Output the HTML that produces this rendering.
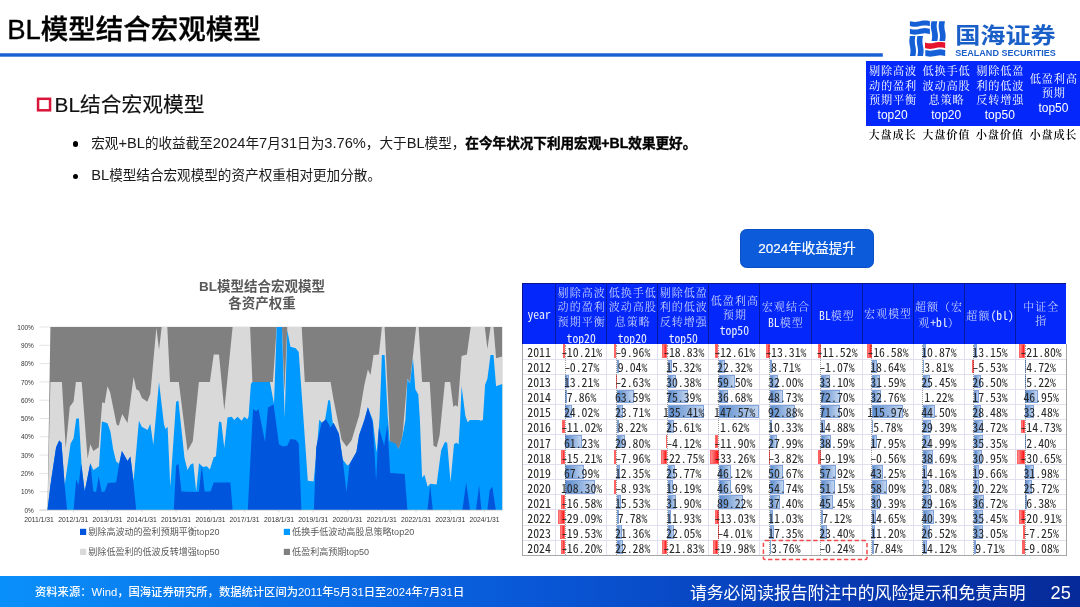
<!DOCTYPE html>
<html lang="zh-CN"><head><meta charset="utf-8"><title>BL模型结合宏观模型</title>
<style>
html,body{margin:0;padding:0;background:#fff}
body{width:1080px;height:607px;position:relative;overflow:hidden;font-family:"Liberation Sans","Noto Sans CJK SC",sans-serif;color:#000}
.abs{position:absolute;white-space:nowrap;line-height:1}
#title{left:7.2px;top:16.1px;font-size:27.5px;font-weight:500;letter-spacing:0;color:#000;-webkit-text-stroke:0.35px #000}
#h2{left:54.6px;top:95.3px;font-size:20.75px;color:#111;-webkit-text-stroke:0.15px #111}
.bul{left:91.2px;font-size:13.6px;color:#1a1a1a;height:16px;line-height:16px}
.bul .la{font-size:14.67px}
.bul b .la{font-size:14.1px}
.bul b{-webkit-text-stroke:0.35px #000;color:#000}
.dot{width:5.6px;height:5.6px;border-radius:50%;background:#000;left:72.8px}
#btn{left:740.3px;top:229.2px;width:133.4px;height:39.1px;border-radius:6.5px;background:#0b5bdb;box-sizing:border-box;border:1px solid #0a4fc4;color:#fff;font-size:13.5px;text-align:center;line-height:37.5px;-webkit-text-stroke:0.2px #fff}
#tr{left:865.5px;top:61.1px;width:214.5px;height:64.8px;background:#0428fb}
.trc{position:absolute;top:0;height:64.8px;width:53.6px;display:flex;flex-direction:column;justify-content:center;align-items:center;color:#fff;font-size:11.2px;line-height:14.5px;white-space:nowrap}
.trc .k{letter-spacing:0.8px;position:relative;left:0.4px}
.trl{top:128px;font-size:11.2px;letter-spacing:0.8px;color:#000;font-weight:600;font-family:"Liberation Serif","Noto Serif CJK SC",serif;text-align:center;width:53.6px;line-height:15px}
.k{font-family:"Liberation Serif","Noto Serif CJK SC",serif}
.m{font-family:"Noto Sans Mono CJK SC","IPAGothic",monospace}
.ar{font-family:"Liberation Sans",sans-serif}
#foot{left:0;top:576.3px;width:1080px;height:30.7px;background:linear-gradient(90deg,#0a90fa 0%,#0a72e8 25%,#0957d6 50%,#083cb6 75%,#062a98 100%)}
#fl{left:35px;top:586.6px;font-size:11.3px;color:#fff;font-weight:500}
#fr{left:690px;top:585.5px;font-size:16.8px;color:#fff}
#pg{left:1050.6px;top:584.2px;font-size:18.2px;color:#fff}
#tbl{left:0;top:0}
.hl{position:absolute;height:15px;line-height:15px;text-align:center;white-space:nowrap;color:rgba(255,255,255,0.86);font-size:11px}
.hl.k{letter-spacing:1.05px;text-indent:1.05px;font-weight:300}
.hl.m,.hl .m{color:rgba(255,255,255,0.92);font-size:11.7px;letter-spacing:0;text-indent:0;font-weight:400}
.c{position:absolute;height:15.08px;line-height:16.5px;text-align:center;font-family:"Noto Sans Mono CJK SC","IPAGothic",monospace;font-size:11.8px;color:#262626;white-space:nowrap}
.d{display:inline-block;transform:translateX(1.2px) scaleX(1.25);transform-origin:100% 50%}

</style></head><body>
<div class="abs" id="title">BL模型结合宏观模型</div>
<svg class="abs" style="left:0;top:50px" width="890" height="10" viewBox="0 50 890 10"><rect x="-1" y="53.25" width="883.8" height="3.45" fill="#1660d4"/></svg>
<svg class="abs" style="left:905px;top:16px" width="160" height="46" viewBox="905 16 160 46">
<g fill="#1560d6"><path d="M909.90 21.20 L911.57 21.55 L913.23 21.81 L914.90 21.90 L916.57 21.81 L918.23 21.55 L919.90 21.20 L921.57 20.85 L923.23 20.59 L924.90 20.50 L926.57 20.59 L928.23 20.85 L929.90 21.20 L929.90 26.10 L928.23 25.75 L926.57 25.49 L924.90 25.40 L923.23 25.49 L921.57 25.75 L919.90 26.10 L918.23 26.45 L916.57 26.71 L914.90 26.80 L913.23 26.71 L911.57 26.45 L909.90 26.10Z"/><path d="M909.90 28.80 L911.57 29.15 L913.23 29.41 L914.90 29.50 L916.57 29.41 L918.23 29.15 L919.90 28.80 L921.57 28.45 L923.23 28.19 L924.90 28.10 L926.57 28.19 L928.23 28.45 L929.90 28.80 L929.90 34.00 L928.23 33.65 L926.57 33.39 L924.90 33.30 L923.23 33.39 L921.57 33.65 L919.90 34.00 L918.23 34.35 L916.57 34.61 L914.90 34.70 L913.23 34.61 L911.57 34.35 L909.90 34.00Z"/><path d="M909.90 36.10 L909.60 37.76 L909.38 39.42 L909.30 41.08 L909.38 42.73 L909.60 44.39 L909.90 46.05 L910.20 47.71 L910.42 49.37 L910.50 51.02 L910.42 52.68 L910.20 54.34 L909.90 56.00 L915.40 56.00 L915.70 54.34 L915.92 52.68 L916.00 51.02 L915.92 49.37 L915.70 47.71 L915.40 46.05 L915.10 44.39 L914.88 42.73 L914.80 41.08 L914.88 39.42 L915.10 37.76 L915.40 36.10Z"/><path d="M917.40 36.10 L917.10 37.76 L916.88 39.42 L916.80 41.08 L916.88 42.73 L917.10 44.39 L917.40 46.05 L917.70 47.71 L917.92 49.37 L918.00 51.02 L917.92 52.68 L917.70 54.34 L917.40 56.00 L923.00 56.00 L923.30 54.34 L923.52 52.68 L923.60 51.02 L923.52 49.37 L923.30 47.71 L923.00 46.05 L922.70 44.39 L922.48 42.73 L922.40 41.08 L922.48 39.42 L922.70 37.76 L923.00 36.10Z"/><path d="M931.50 21.20 L931.17 22.86 L930.94 24.52 L930.85 26.18 L930.94 27.83 L931.17 29.49 L931.50 31.15 L931.83 32.81 L932.06 34.47 L932.15 36.12 L932.06 37.78 L931.83 39.44 L931.50 41.10 L937.30 41.10 L937.62 39.44 L937.86 37.78 L937.95 36.12 L937.86 34.47 L937.62 32.81 L937.30 31.15 L936.97 29.49 L936.74 27.83 L936.65 26.18 L936.74 24.52 L936.97 22.86 L937.30 21.20Z"/><path d="M939.30 21.20 L938.97 22.86 L938.74 24.52 L938.65 26.18 L938.74 27.83 L938.97 29.49 L939.30 31.15 L939.62 32.81 L939.86 34.47 L939.95 36.12 L939.86 37.78 L939.62 39.44 L939.30 41.10 L945.00 41.10 L945.33 39.44 L945.56 37.78 L945.65 36.12 L945.56 34.47 L945.33 32.81 L945.00 31.15 L944.67 29.49 L944.44 27.83 L944.35 26.18 L944.44 24.52 L944.67 22.86 L945.00 21.20Z"/><path d="M925.30 50.00 L926.96 50.35 L928.62 50.61 L930.27 50.70 L931.93 50.61 L933.59 50.35 L935.25 50.00 L936.91 49.65 L938.57 49.39 L940.23 49.30 L941.88 49.39 L943.54 49.65 L945.20 50.00 L945.20 56.00 L943.54 55.65 L941.88 55.39 L940.23 55.30 L938.57 55.39 L936.91 55.65 L935.25 56.00 L933.59 56.35 L931.93 56.61 L930.27 56.70 L928.62 56.61 L926.96 56.35 L925.30 56.00Z"/></g><path fill="#e6142d" d="M925.00 42.60 L926.68 42.95 L928.37 43.21 L930.05 43.30 L931.73 43.21 L933.42 42.95 L935.10 42.60 L936.78 42.25 L938.47 41.99 L940.15 41.90 L941.83 41.99 L943.52 42.25 L945.20 42.60 L945.20 48.20 L943.52 47.85 L941.83 47.59 L940.15 47.50 L938.47 47.59 L936.78 47.85 L935.10 48.20 L933.42 48.55 L931.73 48.81 L930.05 48.90 L928.37 48.81 L926.68 48.55 L925.00 48.20Z"/>
<text x="955.2" y="42.9" font-family='"Liberation Sans","Noto Sans CJK SC",sans-serif' font-weight="700" font-size="22" fill="#1a5fc8" textLength="100.6" lengthAdjust="spacingAndGlyphs">国海证券</text>
<text x="955.2" y="56.4" font-family='"Liberation Sans",sans-serif' font-weight="700" font-size="9.8" fill="#1a5fc8" textLength="100.6" lengthAdjust="spacingAndGlyphs">SEALAND SECURITIES</text>
</svg>
<div class="abs" id="tr">
<div class="trc" style="left:0.3px">
<span class="k">剔除高波</span>
<span class="k">动的盈利</span>
<span class="k">预期平衡</span>
<span class="ar" style="font-size:12px">top20</span>
</div>
<div class="trc" style="left:53.9px">
<span class="k">低换手低</span>
<span class="k">波动高股</span>
<span class="k">息策略</span>
<span class="ar" style="font-size:12px">top20</span>
</div>
<div class="trc" style="left:107.5px">
<span class="k">剔除低盈</span>
<span class="k">利的低波</span>
<span class="k">反转增强</span>
<span class="ar" style="font-size:12px">top50</span>
</div>
<div class="trc" style="left:161.1px">
<span class="k">低盈利高</span>
<span class="k">预期</span>
<span class="ar" style="font-size:12px">top50</span>
</div>
</div>
<div class="abs trl" style="left:865.8px">大盘成长</div>
<div class="abs trl" style="left:919.4px">大盘价值</div>
<div class="abs trl" style="left:973.0px">小盘价值</div>
<div class="abs trl" style="left:1026.6px">小盘成长</div>
<svg class="abs" style="left:30px;top:90px" width="30" height="30" viewBox="30 90 30 30"><rect x="38.05" y="98.8" width="12" height="11.5" fill="none" stroke="#d9163a" stroke-width="2.5"/></svg>
<div class="abs" id="h2">BL结合宏观模型</div>
<div class="abs dot" style="top:141.3px"></div>
<div class="abs bul" style="top:135px">宏观<span class="la">+BL</span>的收益截至<span class="la">2024</span>年<span class="la">7</span>月<span class="la">31</span>日为<span class="la">3.76%</span>，大于<span class="la">BL</span>模型，<b>在今年状况下利用宏观<span class="la">+BL</span>效果更好。</b></div>
<div class="abs dot" style="top:173.5px"></div>
<div class="abs bul" style="top:167.2px"><span class="la">BL</span>模型结合宏观模型的资产权重相对更加分散。</div>
<div class="abs" id="btn">2024年收益提升</div>
<svg class="abs" style="left:0;top:270px" width="520" height="300" viewBox="0 270 520 300">
<text x="262" y="291.3" text-anchor="middle" font-family='&quot;Liberation Sans&quot;,&quot;Noto Sans CJK SC&quot;,sans-serif' font-weight="700" font-size="13.5" fill="#595959">BL模型结合宏观模型</text>
<text x="262" y="308" text-anchor="middle" font-family='&quot;Liberation Sans&quot;,&quot;Noto Sans CJK SC&quot;,sans-serif' font-weight="700" font-size="13.5" fill="#595959">各资产权重</text>
<line x1="39.5" x2="502.2" y1="510.0" y2="510.0" stroke="#d9d9d9" stroke-width="0.7"/>
<text x="33.8" y="512.6" text-anchor="end" font-family="Liberation Sans,sans-serif" font-size="6.45" fill="#333">0%</text>
<line x1="39.5" x2="502.2" y1="491.7" y2="491.7" stroke="#d9d9d9" stroke-width="0.7"/>
<text x="33.8" y="494.3" text-anchor="end" font-family="Liberation Sans,sans-serif" font-size="6.45" fill="#333">10%</text>
<line x1="39.5" x2="502.2" y1="473.4" y2="473.4" stroke="#d9d9d9" stroke-width="0.7"/>
<text x="33.8" y="476.0" text-anchor="end" font-family="Liberation Sans,sans-serif" font-size="6.45" fill="#333">20%</text>
<line x1="39.5" x2="502.2" y1="455.1" y2="455.1" stroke="#d9d9d9" stroke-width="0.7"/>
<text x="33.8" y="457.7" text-anchor="end" font-family="Liberation Sans,sans-serif" font-size="6.45" fill="#333">30%</text>
<line x1="39.5" x2="502.2" y1="436.8" y2="436.8" stroke="#d9d9d9" stroke-width="0.7"/>
<text x="33.8" y="439.4" text-anchor="end" font-family="Liberation Sans,sans-serif" font-size="6.45" fill="#333">40%</text>
<line x1="39.5" x2="502.2" y1="418.5" y2="418.5" stroke="#d9d9d9" stroke-width="0.7"/>
<text x="33.8" y="421.1" text-anchor="end" font-family="Liberation Sans,sans-serif" font-size="6.45" fill="#333">50%</text>
<line x1="39.5" x2="502.2" y1="400.2" y2="400.2" stroke="#d9d9d9" stroke-width="0.7"/>
<text x="33.8" y="402.8" text-anchor="end" font-family="Liberation Sans,sans-serif" font-size="6.45" fill="#333">60%</text>
<line x1="39.5" x2="502.2" y1="381.9" y2="381.9" stroke="#d9d9d9" stroke-width="0.7"/>
<text x="33.8" y="384.5" text-anchor="end" font-family="Liberation Sans,sans-serif" font-size="6.45" fill="#333">70%</text>
<line x1="39.5" x2="502.2" y1="363.6" y2="363.6" stroke="#d9d9d9" stroke-width="0.7"/>
<text x="33.8" y="366.2" text-anchor="end" font-family="Liberation Sans,sans-serif" font-size="6.45" fill="#333">80%</text>
<line x1="39.5" x2="502.2" y1="345.3" y2="345.3" stroke="#d9d9d9" stroke-width="0.7"/>
<text x="33.8" y="347.9" text-anchor="end" font-family="Liberation Sans,sans-serif" font-size="6.45" fill="#333">90%</text>
<line x1="39.5" x2="502.2" y1="327.0" y2="327.0" stroke="#d9d9d9" stroke-width="0.7"/>
<text x="33.8" y="329.6" text-anchor="end" font-family="Liberation Sans,sans-serif" font-size="6.45" fill="#333">100%</text>
<polygon fill="#808080" points="47.5,510 50.4,327 502.2,327 502.2,510"/>
<polygon fill="#d9d9d9" points="47.5,509.9 50.4,382.0 61.9,382.0 65.7,448.1 69.8,406.8 73.6,401.4 75.9,382.0 81.7,382.0 87.6,458.7 90.3,444.3 93.4,451.1 98.7,447.3 102.2,402.2 104.7,403.3 107.5,386.3 110.1,392.3 116.6,424.6 118.7,425.8 122.2,413.9 127.5,423.0 133.6,377.1 136.3,389.3 138.9,390.8 141.9,398.1 147.3,401.7 150.3,393.9 156.4,327.8 159.0,349.8 161.7,327.0 167.3,327.0 170.0,382.0 178.8,382.0 187.5,451.1 192.8,441.3 198.9,382.0 209.9,382.0 213.7,354.4 219.0,354.4 224.3,410.6 232.6,327.0 250.1,327.0 252.4,382.0 272.9,382.0 276.7,327.0 282.0,327.0 284.4,392.3 287.3,327.0 301.7,327.0 304.8,382.0 330.6,382.0 333.6,399.9 341.7,440.0 346.7,446.7 351.7,440.0 358.3,418.3 359.1,416.0 364.4,384.7 367.9,369.6 370.5,374.9 373.5,355.1 378.9,354.4 381.9,327.0 384.6,327.0 390.2,442.8 395.6,444.3 398.6,449.6 402.4,436.7 407.4,378.7 410.0,382.5 416.1,327.0 418.6,327.0 422.1,382.0 429.7,382.0 433.5,445.8 436.6,447.3 439.6,435.2 444.9,382.0 450.2,382.0 453.3,406.8 455.5,405.2 457.8,406.8 461.6,355.9 466.9,354.4 470.7,327.0 484.8,327.0 487.4,349.1 490.5,327.0 493.5,327.0 496.1,358.2 502.2,356.6 502.2,510 47.5,510"/>
<polygon fill="#0099ff" points="47.5,509.9 50.4,485.3 56.1,447.3 59.2,440.5 61.5,442.8 64.7,485.3 70.6,443.5 73.6,438.2 76.2,418.5 78.9,418.5 81.5,464.0 84.7,491.4 90.3,463.3 93.4,470.1 96.1,468.3 99.0,466.3 101.9,421.5 104.7,422.3 107.5,423.3 110.4,431.4 113.2,449.6 116.1,461.3 119.0,463.7 121.9,451.1 124.6,455.7 127.5,461.0 130.4,456.4 133.6,480.7 138.9,420.8 141.8,426.8 147.6,429.9 150.3,423.8 153.3,445.1 159.0,381.9 164.0,424.6 165.5,429.1 167.6,426.8 170.3,486.8 176.1,401.7 178.4,400.7 184.5,458.0 187.5,470.1 190.4,464.8 193.3,463.3 196.2,491.4 199.0,463.3 203.0,467.1 206.8,466.3 209.9,469.4 213.7,457.2 215.9,456.4 219.0,421.5 221.3,422.3 224.3,448.1 227.5,417.5 231.7,416.7 234.2,420.0 237.5,416.7 241.7,420.8 244.2,416.7 247.5,419.2 248.6,416.2 250.9,384.0 252.4,382.0 269.9,382.0 274.0,403.7 276.7,327.0 282.0,327.0 284.7,418.1 287.3,330.1 290.4,346.8 295.7,348.3 298.7,352.1 303.3,416.2 307.8,480.7 313.6,481.5 316.7,450.0 319.2,419.7 322.5,423.3 325.0,420.0 328.3,400.3 330.0,400.3 332.8,423.3 333.6,423.0 338.9,433.7 342.7,459.5 347.3,465.6 349.6,464.0 356.4,451.9 359.1,435.2 364.4,420.0 367.9,407.2 372.8,420.0 376.6,452.6 378.9,427.6 379.6,416.0 381.9,355.1 384.6,355.1 387.7,416.0 389.8,441.3 395.6,443.5 398.6,449.6 402.4,436.7 405.4,420.0 407.4,379.4 410.0,383.2 413.0,358.2 415.3,389.3 418.3,394.6 419.9,420.0 422.1,477.7 424.4,474.7 427.7,486.8 430.2,483.8 436.6,484.5 441.1,450.4 444.9,442.0 447.2,442.8 450.5,482.3 454.0,444.3 456.3,442.8 458.6,444.3 460.1,420.0 461.6,386.3 465.4,416.0 467.7,422.3 470.0,420.0 479.1,420.0 480.6,420.8 482.9,420.0 485.1,384.7 487.4,378.7 490.5,355.1 493.5,355.1 496.1,386.3 502.2,384.0 502.2,510 47.5,510"/>
<polygon fill="#0055dd" points="47.5,509.9 50.4,485.3 56.1,447.3 59.2,440.5 61.5,442.8 64.7,485.3 67.1,509.9 73.6,509.9 76.2,479.2 78.6,485.3 81.2,464.0 84.7,491.4 90.3,463.3 93.4,491.4 96.1,492.1 98.7,476.2 101.7,492.1 104.7,491.4 107.8,483.0 116.1,482.6 119.2,464.0 121.9,451.1 124.6,455.7 127.5,461.0 130.4,456.4 133.3,480.7 136.2,509.9 173.8,509.9 176.1,465.6 178.4,464.0 181.4,491.4 195.9,492.1 198.9,491.7 201.8,465.6 204.6,491.4 210.6,491.4 213.7,482.6 230.4,482.6 232.6,509.9 247.8,509.9 250.1,465.6 253.1,409.0 256.2,411.3 258.5,409.0 265.0,442.0 268.0,407.5 273.6,404.5 279.0,444.3 282.8,446.6 287.3,445.8 290.4,439.0 295.7,439.7 298.7,443.5 301.4,509.9 313.9,509.9 316.2,447.3 321.5,423.0 326.0,419.2 330.6,427.6 333.6,423.0 338.9,433.7 342.7,459.5 346.5,492.1 349.6,464.0 356.4,451.9 359.1,435.2 364.4,420.0 367.9,407.2 372.8,423.0 376.1,480.7 378.9,427.6 381.1,435.2 384.2,445.8 387.2,424.6 390.2,473.1 404.7,473.9 407.4,509.9 427.4,509.9 430.2,485.3 432.8,509.9 462.4,509.9 466.2,482.3 470.0,509.9 476.0,509.9 479.1,485.3 481.4,509.9 487.4,509.9 489.7,489.9 492.4,486.8 495.8,509.9 502.2,509.9 502.2,510 47.5,510"/>
<line x1="39.5" x2="502.2" y1="510.2" y2="510.2" stroke="#d0d0d0" stroke-width="0.8"/>
<text x="39.0" y="522.3" text-anchor="middle" font-family="Liberation Sans,sans-serif" font-size="6.75" fill="#333">2011/1/31</text>
<line x1="73.3" x2="73.3" y1="510" y2="512.3" stroke="#d0d0d0" stroke-width="0.8"/>
<text x="73.3" y="522.3" text-anchor="middle" font-family="Liberation Sans,sans-serif" font-size="6.75" fill="#333">2012/1/31</text>
<line x1="107.5" x2="107.5" y1="510" y2="512.3" stroke="#d0d0d0" stroke-width="0.8"/>
<text x="107.5" y="522.3" text-anchor="middle" font-family="Liberation Sans,sans-serif" font-size="6.75" fill="#333">2013/1/31</text>
<line x1="141.8" x2="141.8" y1="510" y2="512.3" stroke="#d0d0d0" stroke-width="0.8"/>
<text x="141.8" y="522.3" text-anchor="middle" font-family="Liberation Sans,sans-serif" font-size="6.75" fill="#333">2014/1/31</text>
<line x1="176.1" x2="176.1" y1="510" y2="512.3" stroke="#d0d0d0" stroke-width="0.8"/>
<text x="176.1" y="522.3" text-anchor="middle" font-family="Liberation Sans,sans-serif" font-size="6.75" fill="#333">2015/1/31</text>
<line x1="210.4" x2="210.4" y1="510" y2="512.3" stroke="#d0d0d0" stroke-width="0.8"/>
<text x="210.4" y="522.3" text-anchor="middle" font-family="Liberation Sans,sans-serif" font-size="6.75" fill="#333">2016/1/31</text>
<line x1="244.6" x2="244.6" y1="510" y2="512.3" stroke="#d0d0d0" stroke-width="0.8"/>
<text x="244.6" y="522.3" text-anchor="middle" font-family="Liberation Sans,sans-serif" font-size="6.75" fill="#333">2017/1/31</text>
<line x1="278.9" x2="278.9" y1="510" y2="512.3" stroke="#d0d0d0" stroke-width="0.8"/>
<text x="278.9" y="522.3" text-anchor="middle" font-family="Liberation Sans,sans-serif" font-size="6.75" fill="#333">2018/1/31</text>
<line x1="313.2" x2="313.2" y1="510" y2="512.3" stroke="#d0d0d0" stroke-width="0.8"/>
<text x="313.2" y="522.3" text-anchor="middle" font-family="Liberation Sans,sans-serif" font-size="6.75" fill="#333">2019/1/31</text>
<line x1="347.4" x2="347.4" y1="510" y2="512.3" stroke="#d0d0d0" stroke-width="0.8"/>
<text x="347.4" y="522.3" text-anchor="middle" font-family="Liberation Sans,sans-serif" font-size="6.75" fill="#333">2020/1/31</text>
<line x1="381.7" x2="381.7" y1="510" y2="512.3" stroke="#d0d0d0" stroke-width="0.8"/>
<text x="381.7" y="522.3" text-anchor="middle" font-family="Liberation Sans,sans-serif" font-size="6.75" fill="#333">2021/1/31</text>
<line x1="416.0" x2="416.0" y1="510" y2="512.3" stroke="#d0d0d0" stroke-width="0.8"/>
<text x="416.0" y="522.3" text-anchor="middle" font-family="Liberation Sans,sans-serif" font-size="6.75" fill="#333">2022/1/31</text>
<line x1="450.2" x2="450.2" y1="510" y2="512.3" stroke="#d0d0d0" stroke-width="0.8"/>
<text x="450.2" y="522.3" text-anchor="middle" font-family="Liberation Sans,sans-serif" font-size="6.75" fill="#333">2023/1/31</text>
<line x1="484.5" x2="484.5" y1="510" y2="512.3" stroke="#d0d0d0" stroke-width="0.8"/>
<text x="484.5" y="522.3" text-anchor="middle" font-family="Liberation Sans,sans-serif" font-size="6.75" fill="#333">2024/1/31</text>
<rect x="80.0" y="528.8" width="6.2" height="6.2" fill="#0055dd"/>
<text x="88.3" y="535.3" font-family='&quot;Liberation Sans&quot;,&quot;Noto Sans CJK SC&quot;,sans-serif' font-size="9.05" fill="#595959">剔除高波动的盈利预期平衡top20</text>
<rect x="283.8" y="528.8" width="6.2" height="6.2" fill="#0099ff"/>
<text x="292.1" y="535.3" font-family='&quot;Liberation Sans&quot;,&quot;Noto Sans CJK SC&quot;,sans-serif' font-size="9.05" fill="#595959">低换手低波动高股息策略top20</text>
<rect x="80.0" y="548.8" width="6.2" height="6.2" fill="#d9d9d9"/>
<text x="88.3" y="555.3" font-family='&quot;Liberation Sans&quot;,&quot;Noto Sans CJK SC&quot;,sans-serif' font-size="9.05" fill="#595959">剔除低盈利的低波反转增强top50</text>
<rect x="283.8" y="548.8" width="6.2" height="6.2" fill="#808080"/>
<text x="292.1" y="555.3" font-family='&quot;Liberation Sans&quot;,&quot;Noto Sans CJK SC&quot;,sans-serif' font-size="9.05" fill="#595959">低盈利高预期top50</text>
</svg>
<div class="abs" id="tbl">
<div class="abs" style="left:522.0px;top:282.6px;width:544.2px;height:61.4px;background:#0428fb;box-sizing:border-box;border-top:1px solid #06158f;border-left:1px solid #06158f"></div>
<div class="abs" style="left:522.0px;top:344.0px;width:544.7px;height:211.9px;background:#fff;box-sizing:border-box;border:1px solid #a6a6a6;border-top:none"></div>
<div class="hl m" style="left:522.5px;top:305.7px;width:33.2px">year</div>
<div class="abs" style="left:555.2px;top:283.0px;width:1px;height:61.0px;background:#061aa0"></div>
<div class="hl k" style="left:555.7px;top:285.8px;width:51.0px">剔除高波</div>
<div class="hl k" style="left:555.7px;top:300.1px;width:51.0px">动的盈利</div>
<div class="hl k" style="left:555.7px;top:314.9px;width:51.0px">预期平衡</div>
<div class="hl m" style="left:555.7px;top:330.0px;width:51.0px">top20</div>
<div class="abs" style="left:606.2px;top:283.0px;width:1px;height:61.0px;background:#061aa0"></div>
<div class="hl k" style="left:606.8px;top:285.8px;width:51.0px">低换手低</div>
<div class="hl k" style="left:606.8px;top:300.1px;width:51.0px">波动高股</div>
<div class="hl k" style="left:606.8px;top:314.9px;width:51.0px">息策略</div>
<div class="hl m" style="left:606.8px;top:330.0px;width:51.0px">top20</div>
<div class="abs" style="left:657.3px;top:283.0px;width:1px;height:61.0px;background:#061aa0"></div>
<div class="hl k" style="left:657.8px;top:285.8px;width:51.0px">剔除低盈</div>
<div class="hl k" style="left:657.8px;top:300.1px;width:51.0px">利的低波</div>
<div class="hl k" style="left:657.8px;top:314.9px;width:51.0px">反转增强</div>
<div class="hl m" style="left:657.8px;top:330.0px;width:51.0px">top50</div>
<div class="abs" style="left:708.4px;top:283.0px;width:1px;height:61.0px;background:#061aa0"></div>
<div class="hl k" style="left:708.9px;top:293.6px;width:51.0px">低盈利高</div>
<div class="hl k" style="left:708.9px;top:308.4px;width:51.0px">预期</div>
<div class="hl m" style="left:708.9px;top:321.7px;width:51.0px">top50</div>
<div class="abs" style="left:759.4px;top:283.0px;width:1px;height:61.0px;background:#061aa0"></div>
<div class="hl k" style="left:759.9px;top:300.4px;width:51.0px">宏观结合</div>
<div class="hl k" style="left:759.9px;top:314.2px;width:51.0px"><span class="m">BL</span>模型</div>
<div class="abs" style="left:810.5px;top:283.0px;width:1px;height:61.0px;background:#061aa0"></div>
<div class="hl k" style="left:811.0px;top:307.4px;width:51.0px"><span class="m">BL</span>模型</div>
<div class="abs" style="left:861.5px;top:283.0px;width:1px;height:61.0px;background:#061aa0"></div>
<div class="hl k" style="left:862.0px;top:307.4px;width:51.0px">宏观模型</div>
<div class="abs" style="left:912.5px;top:283.0px;width:1px;height:61.0px;background:#061aa0"></div>
<div class="hl k" style="left:913.0px;top:300.4px;width:51.0px">超额（宏</div>
<div class="hl k" style="left:913.0px;top:314.2px;width:51.0px">观<span class="m">+bl</span>）</div>
<div class="abs" style="left:963.6px;top:283.0px;width:1px;height:61.0px;background:#061aa0"></div>
<div class="hl k" style="left:964.1px;top:307.4px;width:51.0px">超额<span class="m">(bl)</span></div>
<div class="abs" style="left:1014.7px;top:283.0px;width:1px;height:61.0px;background:#061aa0"></div>
<div class="hl k" style="left:1015.2px;top:300.4px;width:51.0px">中证全</div>
<div class="hl k" style="left:1015.2px;top:314.2px;width:51.0px">指</div>
<div class="abs" style="left:522.5px;top:358.6px;width:543.7px;height:1px;background:#e0e0f0"></div>
<div class="abs" style="left:522.5px;top:373.7px;width:543.7px;height:1px;background:#e0e0f0"></div>
<div class="abs" style="left:522.5px;top:388.7px;width:543.7px;height:1px;background:#e0e0f0"></div>
<div class="abs" style="left:522.5px;top:403.8px;width:543.7px;height:1px;background:#e0e0f0"></div>
<div class="abs" style="left:522.5px;top:418.9px;width:543.7px;height:1px;background:#e0e0f0"></div>
<div class="abs" style="left:522.5px;top:434.0px;width:543.7px;height:1px;background:#e0e0f0"></div>
<div class="abs" style="left:522.5px;top:449.1px;width:543.7px;height:1px;background:#e0e0f0"></div>
<div class="abs" style="left:522.5px;top:464.1px;width:543.7px;height:1px;background:#e0e0f0"></div>
<div class="abs" style="left:522.5px;top:479.2px;width:543.7px;height:1px;background:#e0e0f0"></div>
<div class="abs" style="left:522.5px;top:494.3px;width:543.7px;height:1px;background:#e0e0f0"></div>
<div class="abs" style="left:522.5px;top:509.4px;width:543.7px;height:1px;background:#e0e0f0"></div>
<div class="abs" style="left:522.5px;top:524.5px;width:543.7px;height:1px;background:#e0e0f0"></div>
<div class="abs" style="left:522.5px;top:539.5px;width:543.7px;height:1px;background:#e0e0f0"></div>
<div class="abs" style="left:555.2px;top:344.0px;width:1px;height:211.1px;background:#e0e0f0"></div>
<div class="abs" style="left:606.2px;top:344.0px;width:1px;height:211.1px;background:#e0e0f0"></div>
<div class="abs" style="left:657.3px;top:344.0px;width:1px;height:211.1px;background:#e0e0f0"></div>
<div class="abs" style="left:708.4px;top:344.0px;width:1px;height:211.1px;background:#e0e0f0"></div>
<div class="abs" style="left:759.4px;top:344.0px;width:1px;height:211.1px;background:#e0e0f0"></div>
<div class="abs" style="left:810.5px;top:344.0px;width:1px;height:211.1px;background:#e0e0f0"></div>
<div class="abs" style="left:861.5px;top:344.0px;width:1px;height:211.1px;background:#e0e0f0"></div>
<div class="abs" style="left:912.5px;top:344.0px;width:1px;height:211.1px;background:#e0e0f0"></div>
<div class="abs" style="left:963.6px;top:344.0px;width:1px;height:211.1px;background:#e0e0f0"></div>
<div class="abs" style="left:1014.7px;top:344.0px;width:1px;height:211.1px;background:#e0e0f0"></div>
<div class="c" style="left:522.5px;top:344.0px;width:33.2px">2011</div>
<div class="abs" style="left:562.6px;top:344.4px;width:2.8px;height:13.5px;box-sizing:border-box;border:0.6px solid #f66;background:linear-gradient(90deg,#ff9090,#ff1414)"></div>
<div class="abs" style="left:613.8px;top:344.4px;width:2.7px;height:13.5px;box-sizing:border-box;border:0.6px solid #f66;background:linear-gradient(90deg,#ff9090,#ff1414)"></div>
<div class="abs" style="left:662.4px;top:344.4px;width:5.1px;height:13.5px;box-sizing:border-box;border:0.6px solid #f66;background:linear-gradient(90deg,#ff9090,#ff1414)"></div>
<div class="abs" style="left:715.1px;top:344.4px;width:3.4px;height:13.5px;box-sizing:border-box;border:0.6px solid #f66;background:linear-gradient(90deg,#ff9090,#ff1414)"></div>
<div class="abs" style="left:766.0px;top:344.4px;width:3.6px;height:13.5px;box-sizing:border-box;border:0.6px solid #f66;background:linear-gradient(90deg,#ff9090,#ff1414)"></div>
<div class="abs" style="left:817.5px;top:344.4px;width:3.1px;height:13.5px;box-sizing:border-box;border:0.6px solid #f66;background:linear-gradient(90deg,#ff9090,#ff1414)"></div>
<div class="abs" style="left:867.2px;top:344.4px;width:4.5px;height:13.5px;box-sizing:border-box;border:0.6px solid #f66;background:linear-gradient(90deg,#ff9090,#ff1414)"></div>
<div class="abs" style="left:922.8px;top:344.4px;width:2.9px;height:13.5px;box-sizing:border-box;border:0.6px solid #7fa3d8;background:linear-gradient(90deg,#5d8dce,#c2d5f0)"></div>
<div class="abs" style="left:973.8px;top:344.4px;width:3.6px;height:13.5px;box-sizing:border-box;border:0.6px solid #7fa3d8;background:linear-gradient(90deg,#5d8dce,#c2d5f0)"></div>
<div class="abs" style="left:1018.9px;top:344.4px;width:5.9px;height:13.5px;box-sizing:border-box;border:0.6px solid #f66;background:linear-gradient(90deg,#ff9090,#ff1414)"></div>
<div class="c" style="left:522.5px;top:359.1px;width:33.2px">2012</div>
<div class="abs" style="left:616.5px;top:359.5px;width:2.4px;height:13.5px;background:#7fa2d2"></div>
<div class="abs" style="left:667.5px;top:359.5px;width:4.2px;height:13.5px;box-sizing:border-box;border:0.6px solid #7fa3d8;background:linear-gradient(90deg,#5d8dce,#c2d5f0)"></div>
<div class="abs" style="left:718.6px;top:359.5px;width:6.0px;height:13.5px;box-sizing:border-box;border:0.6px solid #7fa3d8;background:linear-gradient(90deg,#5d8dce,#c2d5f0)"></div>
<div class="abs" style="left:769.6px;top:359.5px;width:2.4px;height:13.5px;background:#7fa2d2"></div>
<div class="abs" style="left:871.7px;top:359.5px;width:5.1px;height:13.5px;box-sizing:border-box;border:0.6px solid #7fa3d8;background:linear-gradient(90deg,#5d8dce,#c2d5f0)"></div>
<div class="abs" style="left:922.8px;top:359.5px;width:1.0px;height:13.5px;background:#7fa2d2"></div>
<div class="abs" style="left:972.3px;top:359.5px;width:1.5px;height:13.5px;background:#ff6060"></div>
<div class="abs" style="left:1024.9px;top:359.5px;width:1.3px;height:13.5px;background:#7fa2d2"></div>
<div class="c" style="left:522.5px;top:374.2px;width:33.2px">2013</div>
<div class="abs" style="left:565.4px;top:374.6px;width:3.6px;height:13.5px;box-sizing:border-box;border:0.6px solid #7fa3d8;background:linear-gradient(90deg,#5d8dce,#c2d5f0)"></div>
<div class="abs" style="left:615.7px;top:374.6px;width:0.7px;height:13.5px;background:#ff6060"></div>
<div class="abs" style="left:667.5px;top:374.6px;width:8.2px;height:13.5px;box-sizing:border-box;border:0.6px solid #7fa3d8;background:linear-gradient(90deg,#5d8dce,#c2d5f0)"></div>
<div class="abs" style="left:718.6px;top:374.6px;width:16.1px;height:13.5px;box-sizing:border-box;border:0.6px solid #7fa3d8;background:linear-gradient(90deg,#5d8dce,#c2d5f0)"></div>
<div class="abs" style="left:769.6px;top:374.6px;width:8.7px;height:13.5px;box-sizing:border-box;border:0.6px solid #7fa3d8;background:linear-gradient(90deg,#5d8dce,#c2d5f0)"></div>
<div class="abs" style="left:820.7px;top:374.6px;width:9.0px;height:13.5px;box-sizing:border-box;border:0.6px solid #7fa3d8;background:linear-gradient(90deg,#5d8dce,#c2d5f0)"></div>
<div class="abs" style="left:871.7px;top:374.6px;width:8.6px;height:13.5px;box-sizing:border-box;border:0.6px solid #7fa3d8;background:linear-gradient(90deg,#5d8dce,#c2d5f0)"></div>
<div class="abs" style="left:922.8px;top:374.6px;width:6.9px;height:13.5px;box-sizing:border-box;border:0.6px solid #7fa3d8;background:linear-gradient(90deg,#5d8dce,#c2d5f0)"></div>
<div class="abs" style="left:973.8px;top:374.6px;width:7.2px;height:13.5px;box-sizing:border-box;border:0.6px solid #7fa3d8;background:linear-gradient(90deg,#5d8dce,#c2d5f0)"></div>
<div class="abs" style="left:1024.9px;top:374.6px;width:1.4px;height:13.5px;background:#7fa2d2"></div>
<div class="c" style="left:522.5px;top:389.2px;width:33.2px">2014</div>
<div class="abs" style="left:565.4px;top:389.6px;width:2.1px;height:13.5px;background:#7fa2d2"></div>
<div class="abs" style="left:616.5px;top:389.6px;width:17.2px;height:13.5px;box-sizing:border-box;border:0.6px solid #7fa3d8;background:linear-gradient(90deg,#5d8dce,#c2d5f0)"></div>
<div class="abs" style="left:667.5px;top:389.6px;width:20.4px;height:13.5px;box-sizing:border-box;border:0.6px solid #7fa3d8;background:linear-gradient(90deg,#5d8dce,#c2d5f0)"></div>
<div class="abs" style="left:718.6px;top:389.6px;width:9.9px;height:13.5px;box-sizing:border-box;border:0.6px solid #7fa3d8;background:linear-gradient(90deg,#5d8dce,#c2d5f0)"></div>
<div class="abs" style="left:769.6px;top:389.6px;width:13.2px;height:13.5px;box-sizing:border-box;border:0.6px solid #7fa3d8;background:linear-gradient(90deg,#5d8dce,#c2d5f0)"></div>
<div class="abs" style="left:820.7px;top:389.6px;width:19.7px;height:13.5px;box-sizing:border-box;border:0.6px solid #7fa3d8;background:linear-gradient(90deg,#5d8dce,#c2d5f0)"></div>
<div class="abs" style="left:871.7px;top:389.6px;width:8.9px;height:13.5px;box-sizing:border-box;border:0.6px solid #7fa3d8;background:linear-gradient(90deg,#5d8dce,#c2d5f0)"></div>
<div class="abs" style="left:973.8px;top:389.6px;width:4.8px;height:13.5px;box-sizing:border-box;border:0.6px solid #7fa3d8;background:linear-gradient(90deg,#5d8dce,#c2d5f0)"></div>
<div class="abs" style="left:1024.9px;top:389.6px;width:12.7px;height:13.5px;box-sizing:border-box;border:0.6px solid #7fa3d8;background:linear-gradient(90deg,#5d8dce,#c2d5f0)"></div>
<div class="c" style="left:522.5px;top:404.3px;width:33.2px">2015</div>
<div class="abs" style="left:565.4px;top:404.7px;width:6.5px;height:13.5px;box-sizing:border-box;border:0.6px solid #7fa3d8;background:linear-gradient(90deg,#5d8dce,#c2d5f0)"></div>
<div class="abs" style="left:616.5px;top:404.7px;width:6.4px;height:13.5px;box-sizing:border-box;border:0.6px solid #7fa3d8;background:linear-gradient(90deg,#5d8dce,#c2d5f0)"></div>
<div class="abs" style="left:667.5px;top:404.7px;width:36.7px;height:13.5px;box-sizing:border-box;border:0.6px solid #7fa3d8;background:linear-gradient(90deg,#5d8dce,#c2d5f0)"></div>
<div class="abs" style="left:718.6px;top:404.7px;width:40.0px;height:13.5px;box-sizing:border-box;border:0.6px solid #7fa3d8;background:linear-gradient(90deg,#5d8dce,#c2d5f0)"></div>
<div class="abs" style="left:769.6px;top:404.7px;width:25.2px;height:13.5px;box-sizing:border-box;border:0.6px solid #7fa3d8;background:linear-gradient(90deg,#5d8dce,#c2d5f0)"></div>
<div class="abs" style="left:820.7px;top:404.7px;width:19.4px;height:13.5px;box-sizing:border-box;border:0.6px solid #7fa3d8;background:linear-gradient(90deg,#5d8dce,#c2d5f0)"></div>
<div class="abs" style="left:871.7px;top:404.7px;width:31.4px;height:13.5px;box-sizing:border-box;border:0.6px solid #7fa3d8;background:linear-gradient(90deg,#5d8dce,#c2d5f0)"></div>
<div class="abs" style="left:922.8px;top:404.7px;width:12.1px;height:13.5px;box-sizing:border-box;border:0.6px solid #7fa3d8;background:linear-gradient(90deg,#5d8dce,#c2d5f0)"></div>
<div class="abs" style="left:973.8px;top:404.7px;width:7.7px;height:13.5px;box-sizing:border-box;border:0.6px solid #7fa3d8;background:linear-gradient(90deg,#5d8dce,#c2d5f0)"></div>
<div class="abs" style="left:1024.9px;top:404.7px;width:9.1px;height:13.5px;box-sizing:border-box;border:0.6px solid #7fa3d8;background:linear-gradient(90deg,#5d8dce,#c2d5f0)"></div>
<div class="c" style="left:522.5px;top:419.4px;width:33.2px">2016</div>
<div class="abs" style="left:562.4px;top:419.8px;width:3.0px;height:13.5px;box-sizing:border-box;border:0.6px solid #f66;background:linear-gradient(90deg,#ff9090,#ff1414)"></div>
<div class="abs" style="left:616.5px;top:419.8px;width:2.2px;height:13.5px;background:#7fa2d2"></div>
<div class="abs" style="left:667.5px;top:419.8px;width:6.9px;height:13.5px;box-sizing:border-box;border:0.6px solid #7fa3d8;background:linear-gradient(90deg,#5d8dce,#c2d5f0)"></div>
<div class="abs" style="left:769.6px;top:419.8px;width:2.8px;height:13.5px;box-sizing:border-box;border:0.6px solid #7fa3d8;background:linear-gradient(90deg,#5d8dce,#c2d5f0)"></div>
<div class="abs" style="left:820.7px;top:419.8px;width:4.0px;height:13.5px;box-sizing:border-box;border:0.6px solid #7fa3d8;background:linear-gradient(90deg,#5d8dce,#c2d5f0)"></div>
<div class="abs" style="left:871.7px;top:419.8px;width:1.6px;height:13.5px;background:#7fa2d2"></div>
<div class="abs" style="left:922.8px;top:419.8px;width:8.0px;height:13.5px;box-sizing:border-box;border:0.6px solid #7fa3d8;background:linear-gradient(90deg,#5d8dce,#c2d5f0)"></div>
<div class="abs" style="left:973.8px;top:419.8px;width:9.4px;height:13.5px;box-sizing:border-box;border:0.6px solid #7fa3d8;background:linear-gradient(90deg,#5d8dce,#c2d5f0)"></div>
<div class="abs" style="left:1020.9px;top:419.8px;width:4.0px;height:13.5px;box-sizing:border-box;border:0.6px solid #f66;background:linear-gradient(90deg,#ff9090,#ff1414)"></div>
<div class="c" style="left:522.5px;top:434.5px;width:33.2px">2017</div>
<div class="abs" style="left:565.4px;top:434.9px;width:16.6px;height:13.5px;box-sizing:border-box;border:0.6px solid #7fa3d8;background:linear-gradient(90deg,#5d8dce,#c2d5f0)"></div>
<div class="abs" style="left:616.5px;top:434.9px;width:8.1px;height:13.5px;box-sizing:border-box;border:0.6px solid #7fa3d8;background:linear-gradient(90deg,#5d8dce,#c2d5f0)"></div>
<div class="abs" style="left:666.4px;top:434.9px;width:1.1px;height:13.5px;background:#ff6060"></div>
<div class="abs" style="left:715.3px;top:434.9px;width:3.2px;height:13.5px;box-sizing:border-box;border:0.6px solid #f66;background:linear-gradient(90deg,#ff9090,#ff1414)"></div>
<div class="abs" style="left:769.6px;top:434.9px;width:7.6px;height:13.5px;box-sizing:border-box;border:0.6px solid #7fa3d8;background:linear-gradient(90deg,#5d8dce,#c2d5f0)"></div>
<div class="abs" style="left:820.7px;top:434.9px;width:10.5px;height:13.5px;box-sizing:border-box;border:0.6px solid #7fa3d8;background:linear-gradient(90deg,#5d8dce,#c2d5f0)"></div>
<div class="abs" style="left:871.7px;top:434.9px;width:4.9px;height:13.5px;box-sizing:border-box;border:0.6px solid #7fa3d8;background:linear-gradient(90deg,#5d8dce,#c2d5f0)"></div>
<div class="abs" style="left:922.8px;top:434.9px;width:6.8px;height:13.5px;box-sizing:border-box;border:0.6px solid #7fa3d8;background:linear-gradient(90deg,#5d8dce,#c2d5f0)"></div>
<div class="abs" style="left:973.8px;top:434.9px;width:9.6px;height:13.5px;box-sizing:border-box;border:0.6px solid #7fa3d8;background:linear-gradient(90deg,#5d8dce,#c2d5f0)"></div>
<div class="abs" style="left:1024.9px;top:434.9px;width:0.7px;height:13.5px;background:#7fa2d2"></div>
<div class="c" style="left:522.5px;top:449.6px;width:33.2px">2018</div>
<div class="abs" style="left:561.3px;top:450.0px;width:4.1px;height:13.5px;box-sizing:border-box;border:0.6px solid #f66;background:linear-gradient(90deg,#ff9090,#ff1414)"></div>
<div class="abs" style="left:614.3px;top:450.0px;width:2.2px;height:13.5px;background:#ff6060"></div>
<div class="abs" style="left:661.3px;top:450.0px;width:6.2px;height:13.5px;box-sizing:border-box;border:0.6px solid #f66;background:linear-gradient(90deg,#ff9090,#ff1414)"></div>
<div class="abs" style="left:709.5px;top:450.0px;width:9.0px;height:13.5px;box-sizing:border-box;border:0.6px solid #f66;background:linear-gradient(90deg,#ff9090,#ff1414)"></div>
<div class="abs" style="left:768.6px;top:450.0px;width:1.0px;height:13.5px;background:#ff6060"></div>
<div class="abs" style="left:818.2px;top:450.0px;width:2.5px;height:13.5px;background:#ff6060"></div>
<div class="abs" style="left:922.8px;top:450.0px;width:10.5px;height:13.5px;box-sizing:border-box;border:0.6px solid #7fa3d8;background:linear-gradient(90deg,#5d8dce,#c2d5f0)"></div>
<div class="abs" style="left:973.8px;top:450.0px;width:8.4px;height:13.5px;box-sizing:border-box;border:0.6px solid #7fa3d8;background:linear-gradient(90deg,#5d8dce,#c2d5f0)"></div>
<div class="abs" style="left:1016.5px;top:450.0px;width:8.3px;height:13.5px;box-sizing:border-box;border:0.6px solid #f66;background:linear-gradient(90deg,#ff9090,#ff1414)"></div>
<div class="c" style="left:522.5px;top:464.6px;width:33.2px">2019</div>
<div class="abs" style="left:565.4px;top:465.0px;width:18.4px;height:13.5px;box-sizing:border-box;border:0.6px solid #7fa3d8;background:linear-gradient(90deg,#5d8dce,#c2d5f0)"></div>
<div class="abs" style="left:616.5px;top:465.0px;width:3.3px;height:13.5px;box-sizing:border-box;border:0.6px solid #7fa3d8;background:linear-gradient(90deg,#5d8dce,#c2d5f0)"></div>
<div class="abs" style="left:667.5px;top:465.0px;width:7.0px;height:13.5px;box-sizing:border-box;border:0.6px solid #7fa3d8;background:linear-gradient(90deg,#5d8dce,#c2d5f0)"></div>
<div class="abs" style="left:718.6px;top:465.0px;width:12.5px;height:13.5px;box-sizing:border-box;border:0.6px solid #7fa3d8;background:linear-gradient(90deg,#5d8dce,#c2d5f0)"></div>
<div class="abs" style="left:769.6px;top:465.0px;width:13.7px;height:13.5px;box-sizing:border-box;border:0.6px solid #7fa3d8;background:linear-gradient(90deg,#5d8dce,#c2d5f0)"></div>
<div class="abs" style="left:820.7px;top:465.0px;width:15.7px;height:13.5px;box-sizing:border-box;border:0.6px solid #7fa3d8;background:linear-gradient(90deg,#5d8dce,#c2d5f0)"></div>
<div class="abs" style="left:871.7px;top:465.0px;width:11.7px;height:13.5px;box-sizing:border-box;border:0.6px solid #7fa3d8;background:linear-gradient(90deg,#5d8dce,#c2d5f0)"></div>
<div class="abs" style="left:922.8px;top:465.0px;width:3.8px;height:13.5px;box-sizing:border-box;border:0.6px solid #7fa3d8;background:linear-gradient(90deg,#5d8dce,#c2d5f0)"></div>
<div class="abs" style="left:973.8px;top:465.0px;width:5.3px;height:13.5px;box-sizing:border-box;border:0.6px solid #7fa3d8;background:linear-gradient(90deg,#5d8dce,#c2d5f0)"></div>
<div class="abs" style="left:1024.9px;top:465.0px;width:8.7px;height:13.5px;box-sizing:border-box;border:0.6px solid #7fa3d8;background:linear-gradient(90deg,#5d8dce,#c2d5f0)"></div>
<div class="c" style="left:522.5px;top:479.7px;width:33.2px">2020</div>
<div class="abs" style="left:565.4px;top:480.1px;width:29.3px;height:13.5px;box-sizing:border-box;border:0.6px solid #7fa3d8;background:linear-gradient(90deg,#5d8dce,#c2d5f0)"></div>
<div class="abs" style="left:614.0px;top:480.1px;width:2.4px;height:13.5px;background:#ff6060"></div>
<div class="abs" style="left:667.5px;top:480.1px;width:5.2px;height:13.5px;box-sizing:border-box;border:0.6px solid #7fa3d8;background:linear-gradient(90deg,#5d8dce,#c2d5f0)"></div>
<div class="abs" style="left:718.6px;top:480.1px;width:12.7px;height:13.5px;box-sizing:border-box;border:0.6px solid #7fa3d8;background:linear-gradient(90deg,#5d8dce,#c2d5f0)"></div>
<div class="abs" style="left:769.6px;top:480.1px;width:14.8px;height:13.5px;box-sizing:border-box;border:0.6px solid #7fa3d8;background:linear-gradient(90deg,#5d8dce,#c2d5f0)"></div>
<div class="abs" style="left:820.7px;top:480.1px;width:13.9px;height:13.5px;box-sizing:border-box;border:0.6px solid #7fa3d8;background:linear-gradient(90deg,#5d8dce,#c2d5f0)"></div>
<div class="abs" style="left:871.7px;top:480.1px;width:15.7px;height:13.5px;box-sizing:border-box;border:0.6px solid #7fa3d8;background:linear-gradient(90deg,#5d8dce,#c2d5f0)"></div>
<div class="abs" style="left:922.8px;top:480.1px;width:6.3px;height:13.5px;box-sizing:border-box;border:0.6px solid #7fa3d8;background:linear-gradient(90deg,#5d8dce,#c2d5f0)"></div>
<div class="abs" style="left:973.8px;top:480.1px;width:5.5px;height:13.5px;box-sizing:border-box;border:0.6px solid #7fa3d8;background:linear-gradient(90deg,#5d8dce,#c2d5f0)"></div>
<div class="abs" style="left:1024.9px;top:480.1px;width:7.0px;height:13.5px;box-sizing:border-box;border:0.6px solid #7fa3d8;background:linear-gradient(90deg,#5d8dce,#c2d5f0)"></div>
<div class="c" style="left:522.5px;top:494.8px;width:33.2px">2021</div>
<div class="abs" style="left:560.9px;top:495.2px;width:4.5px;height:13.5px;box-sizing:border-box;border:0.6px solid #f66;background:linear-gradient(90deg,#ff9090,#ff1414)"></div>
<div class="abs" style="left:616.5px;top:495.2px;width:4.2px;height:13.5px;box-sizing:border-box;border:0.6px solid #7fa3d8;background:linear-gradient(90deg,#5d8dce,#c2d5f0)"></div>
<div class="abs" style="left:667.5px;top:495.2px;width:8.6px;height:13.5px;box-sizing:border-box;border:0.6px solid #7fa3d8;background:linear-gradient(90deg,#5d8dce,#c2d5f0)"></div>
<div class="abs" style="left:718.6px;top:495.2px;width:24.2px;height:13.5px;box-sizing:border-box;border:0.6px solid #7fa3d8;background:linear-gradient(90deg,#5d8dce,#c2d5f0)"></div>
<div class="abs" style="left:769.6px;top:495.2px;width:10.1px;height:13.5px;box-sizing:border-box;border:0.6px solid #7fa3d8;background:linear-gradient(90deg,#5d8dce,#c2d5f0)"></div>
<div class="abs" style="left:820.7px;top:495.2px;width:12.3px;height:13.5px;box-sizing:border-box;border:0.6px solid #7fa3d8;background:linear-gradient(90deg,#5d8dce,#c2d5f0)"></div>
<div class="abs" style="left:871.7px;top:495.2px;width:8.2px;height:13.5px;box-sizing:border-box;border:0.6px solid #7fa3d8;background:linear-gradient(90deg,#5d8dce,#c2d5f0)"></div>
<div class="abs" style="left:922.8px;top:495.2px;width:7.9px;height:13.5px;box-sizing:border-box;border:0.6px solid #7fa3d8;background:linear-gradient(90deg,#5d8dce,#c2d5f0)"></div>
<div class="abs" style="left:973.8px;top:495.2px;width:10.0px;height:13.5px;box-sizing:border-box;border:0.6px solid #7fa3d8;background:linear-gradient(90deg,#5d8dce,#c2d5f0)"></div>
<div class="abs" style="left:1024.9px;top:495.2px;width:1.7px;height:13.5px;background:#7fa2d2"></div>
<div class="c" style="left:522.5px;top:509.9px;width:33.2px">2022</div>
<div class="abs" style="left:557.5px;top:510.3px;width:7.9px;height:13.5px;box-sizing:border-box;border:0.6px solid #f66;background:linear-gradient(90deg,#ff9090,#ff1414)"></div>
<div class="abs" style="left:616.5px;top:510.3px;width:2.1px;height:13.5px;background:#7fa2d2"></div>
<div class="abs" style="left:667.5px;top:510.3px;width:3.2px;height:13.5px;box-sizing:border-box;border:0.6px solid #7fa3d8;background:linear-gradient(90deg,#5d8dce,#c2d5f0)"></div>
<div class="abs" style="left:715.0px;top:510.3px;width:3.5px;height:13.5px;box-sizing:border-box;border:0.6px solid #f66;background:linear-gradient(90deg,#ff9090,#ff1414)"></div>
<div class="abs" style="left:769.6px;top:510.3px;width:3.0px;height:13.5px;box-sizing:border-box;border:0.6px solid #7fa3d8;background:linear-gradient(90deg,#5d8dce,#c2d5f0)"></div>
<div class="abs" style="left:820.7px;top:510.3px;width:1.9px;height:13.5px;background:#7fa2d2"></div>
<div class="abs" style="left:871.7px;top:510.3px;width:4.0px;height:13.5px;box-sizing:border-box;border:0.6px solid #7fa3d8;background:linear-gradient(90deg,#5d8dce,#c2d5f0)"></div>
<div class="abs" style="left:922.8px;top:510.3px;width:10.9px;height:13.5px;box-sizing:border-box;border:0.6px solid #7fa3d8;background:linear-gradient(90deg,#5d8dce,#c2d5f0)"></div>
<div class="abs" style="left:973.8px;top:510.3px;width:9.6px;height:13.5px;box-sizing:border-box;border:0.6px solid #7fa3d8;background:linear-gradient(90deg,#5d8dce,#c2d5f0)"></div>
<div class="abs" style="left:1019.2px;top:510.3px;width:5.7px;height:13.5px;box-sizing:border-box;border:0.6px solid #f66;background:linear-gradient(90deg,#ff9090,#ff1414)"></div>
<div class="c" style="left:522.5px;top:525.0px;width:33.2px">2023</div>
<div class="abs" style="left:560.1px;top:525.4px;width:5.3px;height:13.5px;box-sizing:border-box;border:0.6px solid #f66;background:linear-gradient(90deg,#ff9090,#ff1414)"></div>
<div class="abs" style="left:616.5px;top:525.4px;width:5.8px;height:13.5px;box-sizing:border-box;border:0.6px solid #7fa3d8;background:linear-gradient(90deg,#5d8dce,#c2d5f0)"></div>
<div class="abs" style="left:667.5px;top:525.4px;width:6.0px;height:13.5px;box-sizing:border-box;border:0.6px solid #7fa3d8;background:linear-gradient(90deg,#5d8dce,#c2d5f0)"></div>
<div class="abs" style="left:717.5px;top:525.4px;width:1.1px;height:13.5px;background:#ff6060"></div>
<div class="abs" style="left:769.6px;top:525.4px;width:4.7px;height:13.5px;box-sizing:border-box;border:0.6px solid #7fa3d8;background:linear-gradient(90deg,#5d8dce,#c2d5f0)"></div>
<div class="abs" style="left:820.7px;top:525.4px;width:6.3px;height:13.5px;box-sizing:border-box;border:0.6px solid #7fa3d8;background:linear-gradient(90deg,#5d8dce,#c2d5f0)"></div>
<div class="abs" style="left:871.7px;top:525.4px;width:3.0px;height:13.5px;box-sizing:border-box;border:0.6px solid #7fa3d8;background:linear-gradient(90deg,#5d8dce,#c2d5f0)"></div>
<div class="abs" style="left:922.8px;top:525.4px;width:7.2px;height:13.5px;box-sizing:border-box;border:0.6px solid #7fa3d8;background:linear-gradient(90deg,#5d8dce,#c2d5f0)"></div>
<div class="abs" style="left:973.8px;top:525.4px;width:9.0px;height:13.5px;box-sizing:border-box;border:0.6px solid #7fa3d8;background:linear-gradient(90deg,#5d8dce,#c2d5f0)"></div>
<div class="abs" style="left:1022.9px;top:525.4px;width:2.0px;height:13.5px;background:#ff6060"></div>
<div class="c" style="left:522.5px;top:540.0px;width:33.2px">2024</div>
<div class="abs" style="left:561.0px;top:540.4px;width:4.4px;height:13.5px;box-sizing:border-box;border:0.6px solid #f66;background:linear-gradient(90deg,#ff9090,#ff1414)"></div>
<div class="abs" style="left:616.5px;top:540.4px;width:6.0px;height:13.5px;box-sizing:border-box;border:0.6px solid #7fa3d8;background:linear-gradient(90deg,#5d8dce,#c2d5f0)"></div>
<div class="abs" style="left:661.6px;top:540.4px;width:5.9px;height:13.5px;box-sizing:border-box;border:0.6px solid #f66;background:linear-gradient(90deg,#ff9090,#ff1414)"></div>
<div class="abs" style="left:713.1px;top:540.4px;width:5.4px;height:13.5px;box-sizing:border-box;border:0.6px solid #f66;background:linear-gradient(90deg,#ff9090,#ff1414)"></div>
<div class="abs" style="left:769.6px;top:540.4px;width:1.0px;height:13.5px;background:#7fa2d2"></div>
<div class="abs" style="left:871.7px;top:540.4px;width:2.1px;height:13.5px;background:#7fa2d2"></div>
<div class="abs" style="left:922.8px;top:540.4px;width:3.8px;height:13.5px;box-sizing:border-box;border:0.6px solid #7fa3d8;background:linear-gradient(90deg,#5d8dce,#c2d5f0)"></div>
<div class="abs" style="left:973.8px;top:540.4px;width:2.6px;height:13.5px;box-sizing:border-box;border:0.6px solid #7fa3d8;background:linear-gradient(90deg,#5d8dce,#c2d5f0)"></div>
<div class="abs" style="left:1022.4px;top:540.4px;width:2.5px;height:13.5px;background:#ff6060"></div>
<div class="abs" style="left:565.0px;top:344.5px;width:0;height:210.1px;border-left:1px dotted rgba(40,40,40,0.45)"></div>
<div class="abs" style="left:616.1px;top:344.5px;width:0;height:210.1px;border-left:1px dotted rgba(40,40,40,0.45)"></div>
<div class="abs" style="left:667.1px;top:344.5px;width:0;height:210.1px;border-left:1px dotted rgba(40,40,40,0.45)"></div>
<div class="abs" style="left:718.2px;top:344.5px;width:0;height:210.1px;border-left:1px dotted rgba(40,40,40,0.45)"></div>
<div class="abs" style="left:769.2px;top:344.5px;width:0;height:210.1px;border-left:1px dotted rgba(40,40,40,0.45)"></div>
<div class="abs" style="left:820.3px;top:344.5px;width:0;height:210.1px;border-left:1px dotted rgba(40,40,40,0.45)"></div>
<div class="abs" style="left:871.3px;top:344.5px;width:0;height:210.1px;border-left:1px dotted rgba(40,40,40,0.45)"></div>
<div class="abs" style="left:922.4px;top:344.5px;width:0;height:210.1px;border-left:1px dotted rgba(40,40,40,0.45)"></div>
<div class="abs" style="left:973.4px;top:344.5px;width:0;height:210.1px;border-left:1px dotted rgba(40,40,40,0.45)"></div>
<div class="abs" style="left:1024.5px;top:344.5px;width:0;height:210.1px;border-left:1px dotted rgba(40,40,40,0.45)"></div>
<div class="c" style="left:556.1px;top:344.0px;width:51.0px"><span class="d">-</span>10.21%</div>
<div class="c" style="left:607.1px;top:344.0px;width:51.0px"><span class="d">-</span>9.96%</div>
<div class="c" style="left:658.2px;top:344.0px;width:51.0px"><span class="d">-</span>18.83%</div>
<div class="c" style="left:709.2px;top:344.0px;width:51.0px"><span class="d">-</span>12.61%</div>
<div class="c" style="left:760.3px;top:344.0px;width:51.0px"><span class="d">-</span>13.31%</div>
<div class="c" style="left:811.4px;top:344.0px;width:51.0px"><span class="d">-</span>11.52%</div>
<div class="c" style="left:862.4px;top:344.0px;width:51.0px"><span class="d">-</span>16.58%</div>
<div class="c" style="left:913.4px;top:344.0px;width:51.0px">10.87%</div>
<div class="c" style="left:964.5px;top:344.0px;width:51.0px">13.15%</div>
<div class="c" style="left:1015.6px;top:344.0px;width:51.0px"><span class="d">-</span>21.80%</div>
<div class="c" style="left:556.1px;top:359.1px;width:51.0px"><span class="d">-</span>0.27%</div>
<div class="c" style="left:607.1px;top:359.1px;width:51.0px">9.04%</div>
<div class="c" style="left:658.2px;top:359.1px;width:51.0px">15.32%</div>
<div class="c" style="left:709.2px;top:359.1px;width:51.0px">22.32%</div>
<div class="c" style="left:760.3px;top:359.1px;width:51.0px">8.71%</div>
<div class="c" style="left:811.4px;top:359.1px;width:51.0px"><span class="d">-</span>1.07%</div>
<div class="c" style="left:862.4px;top:359.1px;width:51.0px">18.64%</div>
<div class="c" style="left:913.4px;top:359.1px;width:51.0px">3.81%</div>
<div class="c" style="left:964.5px;top:359.1px;width:51.0px"><span class="d">-</span>5.53%</div>
<div class="c" style="left:1015.6px;top:359.1px;width:51.0px">4.72%</div>
<div class="c" style="left:556.1px;top:374.2px;width:51.0px">13.21%</div>
<div class="c" style="left:607.1px;top:374.2px;width:51.0px"><span class="d">-</span>2.63%</div>
<div class="c" style="left:658.2px;top:374.2px;width:51.0px">30.38%</div>
<div class="c" style="left:709.2px;top:374.2px;width:51.0px">59.50%</div>
<div class="c" style="left:760.3px;top:374.2px;width:51.0px">32.00%</div>
<div class="c" style="left:811.4px;top:374.2px;width:51.0px">33.10%</div>
<div class="c" style="left:862.4px;top:374.2px;width:51.0px">31.59%</div>
<div class="c" style="left:913.4px;top:374.2px;width:51.0px">25.45%</div>
<div class="c" style="left:964.5px;top:374.2px;width:51.0px">26.50%</div>
<div class="c" style="left:1015.6px;top:374.2px;width:51.0px">5.22%</div>
<div class="c" style="left:556.1px;top:389.2px;width:51.0px">7.86%</div>
<div class="c" style="left:607.1px;top:389.2px;width:51.0px">63.59%</div>
<div class="c" style="left:658.2px;top:389.2px;width:51.0px">75.39%</div>
<div class="c" style="left:709.2px;top:389.2px;width:51.0px">36.68%</div>
<div class="c" style="left:760.3px;top:389.2px;width:51.0px">48.73%</div>
<div class="c" style="left:811.4px;top:389.2px;width:51.0px">72.70%</div>
<div class="c" style="left:862.4px;top:389.2px;width:51.0px">32.76%</div>
<div class="c" style="left:913.4px;top:389.2px;width:51.0px">1.22%</div>
<div class="c" style="left:964.5px;top:389.2px;width:51.0px">17.53%</div>
<div class="c" style="left:1015.6px;top:389.2px;width:51.0px">46.95%</div>
<div class="c" style="left:556.1px;top:404.3px;width:51.0px">24.02%</div>
<div class="c" style="left:607.1px;top:404.3px;width:51.0px">23.71%</div>
<div class="c" style="left:658.2px;top:404.3px;width:51.0px">135.41%</div>
<div class="c" style="left:709.2px;top:404.3px;width:51.0px">147.57%</div>
<div class="c" style="left:760.3px;top:404.3px;width:51.0px">92.88%</div>
<div class="c" style="left:811.4px;top:404.3px;width:51.0px">71.50%</div>
<div class="c" style="left:862.4px;top:404.3px;width:51.0px">115.97%</div>
<div class="c" style="left:913.4px;top:404.3px;width:51.0px">44.50%</div>
<div class="c" style="left:964.5px;top:404.3px;width:51.0px">28.48%</div>
<div class="c" style="left:1015.6px;top:404.3px;width:51.0px">33.48%</div>
<div class="c" style="left:556.1px;top:419.4px;width:51.0px"><span class="d">-</span>11.02%</div>
<div class="c" style="left:607.1px;top:419.4px;width:51.0px">8.22%</div>
<div class="c" style="left:658.2px;top:419.4px;width:51.0px">25.61%</div>
<div class="c" style="left:709.2px;top:419.4px;width:51.0px">1.62%</div>
<div class="c" style="left:760.3px;top:419.4px;width:51.0px">10.33%</div>
<div class="c" style="left:811.4px;top:419.4px;width:51.0px">14.88%</div>
<div class="c" style="left:862.4px;top:419.4px;width:51.0px">5.78%</div>
<div class="c" style="left:913.4px;top:419.4px;width:51.0px">29.39%</div>
<div class="c" style="left:964.5px;top:419.4px;width:51.0px">34.72%</div>
<div class="c" style="left:1015.6px;top:419.4px;width:51.0px"><span class="d">-</span>14.73%</div>
<div class="c" style="left:556.1px;top:434.5px;width:51.0px">61.23%</div>
<div class="c" style="left:607.1px;top:434.5px;width:51.0px">29.80%</div>
<div class="c" style="left:658.2px;top:434.5px;width:51.0px"><span class="d">-</span>4.12%</div>
<div class="c" style="left:709.2px;top:434.5px;width:51.0px"><span class="d">-</span>11.90%</div>
<div class="c" style="left:760.3px;top:434.5px;width:51.0px">27.99%</div>
<div class="c" style="left:811.4px;top:434.5px;width:51.0px">38.59%</div>
<div class="c" style="left:862.4px;top:434.5px;width:51.0px">17.95%</div>
<div class="c" style="left:913.4px;top:434.5px;width:51.0px">24.99%</div>
<div class="c" style="left:964.5px;top:434.5px;width:51.0px">35.35%</div>
<div class="c" style="left:1015.6px;top:434.5px;width:51.0px">2.40%</div>
<div class="c" style="left:556.1px;top:449.6px;width:51.0px"><span class="d">-</span>15.21%</div>
<div class="c" style="left:607.1px;top:449.6px;width:51.0px"><span class="d">-</span>7.96%</div>
<div class="c" style="left:658.2px;top:449.6px;width:51.0px"><span class="d">-</span>22.75%</div>
<div class="c" style="left:709.2px;top:449.6px;width:51.0px"><span class="d">-</span>33.26%</div>
<div class="c" style="left:760.3px;top:449.6px;width:51.0px"><span class="d">-</span>3.82%</div>
<div class="c" style="left:811.4px;top:449.6px;width:51.0px"><span class="d">-</span>9.19%</div>
<div class="c" style="left:862.4px;top:449.6px;width:51.0px"><span class="d">-</span>0.56%</div>
<div class="c" style="left:913.4px;top:449.6px;width:51.0px">38.69%</div>
<div class="c" style="left:964.5px;top:449.6px;width:51.0px">30.95%</div>
<div class="c" style="left:1015.6px;top:449.6px;width:51.0px"><span class="d">-</span>30.65%</div>
<div class="c" style="left:556.1px;top:464.6px;width:51.0px">67.99%</div>
<div class="c" style="left:607.1px;top:464.6px;width:51.0px">12.35%</div>
<div class="c" style="left:658.2px;top:464.6px;width:51.0px">25.77%</div>
<div class="c" style="left:709.2px;top:464.6px;width:51.0px">46.12%</div>
<div class="c" style="left:760.3px;top:464.6px;width:51.0px">50.67%</div>
<div class="c" style="left:811.4px;top:464.6px;width:51.0px">57.92%</div>
<div class="c" style="left:862.4px;top:464.6px;width:51.0px">43.25%</div>
<div class="c" style="left:913.4px;top:464.6px;width:51.0px">14.16%</div>
<div class="c" style="left:964.5px;top:464.6px;width:51.0px">19.66%</div>
<div class="c" style="left:1015.6px;top:464.6px;width:51.0px">31.98%</div>
<div class="c" style="left:556.1px;top:479.7px;width:51.0px">108.30%</div>
<div class="c" style="left:607.1px;top:479.7px;width:51.0px"><span class="d">-</span>8.93%</div>
<div class="c" style="left:658.2px;top:479.7px;width:51.0px">19.19%</div>
<div class="c" style="left:709.2px;top:479.7px;width:51.0px">46.69%</div>
<div class="c" style="left:760.3px;top:479.7px;width:51.0px">54.74%</div>
<div class="c" style="left:811.4px;top:479.7px;width:51.0px">51.15%</div>
<div class="c" style="left:862.4px;top:479.7px;width:51.0px">58.09%</div>
<div class="c" style="left:913.4px;top:479.7px;width:51.0px">23.08%</div>
<div class="c" style="left:964.5px;top:479.7px;width:51.0px">20.22%</div>
<div class="c" style="left:1015.6px;top:479.7px;width:51.0px">25.72%</div>
<div class="c" style="left:556.1px;top:494.8px;width:51.0px"><span class="d">-</span>16.58%</div>
<div class="c" style="left:607.1px;top:494.8px;width:51.0px">15.53%</div>
<div class="c" style="left:658.2px;top:494.8px;width:51.0px">31.90%</div>
<div class="c" style="left:709.2px;top:494.8px;width:51.0px">89.22%</div>
<div class="c" style="left:760.3px;top:494.8px;width:51.0px">37.40%</div>
<div class="c" style="left:811.4px;top:494.8px;width:51.0px">45.45%</div>
<div class="c" style="left:862.4px;top:494.8px;width:51.0px">30.39%</div>
<div class="c" style="left:913.4px;top:494.8px;width:51.0px">29.16%</div>
<div class="c" style="left:964.5px;top:494.8px;width:51.0px">36.72%</div>
<div class="c" style="left:1015.6px;top:494.8px;width:51.0px">6.38%</div>
<div class="c" style="left:556.1px;top:509.9px;width:51.0px"><span class="d">-</span>29.09%</div>
<div class="c" style="left:607.1px;top:509.9px;width:51.0px">7.78%</div>
<div class="c" style="left:658.2px;top:509.9px;width:51.0px">11.93%</div>
<div class="c" style="left:709.2px;top:509.9px;width:51.0px"><span class="d">-</span>13.03%</div>
<div class="c" style="left:760.3px;top:509.9px;width:51.0px">11.03%</div>
<div class="c" style="left:811.4px;top:509.9px;width:51.0px">7.12%</div>
<div class="c" style="left:862.4px;top:509.9px;width:51.0px">14.65%</div>
<div class="c" style="left:913.4px;top:509.9px;width:51.0px">40.39%</div>
<div class="c" style="left:964.5px;top:509.9px;width:51.0px">35.45%</div>
<div class="c" style="left:1015.6px;top:509.9px;width:51.0px"><span class="d">-</span>20.91%</div>
<div class="c" style="left:556.1px;top:525.0px;width:51.0px"><span class="d">-</span>19.53%</div>
<div class="c" style="left:607.1px;top:525.0px;width:51.0px">21.36%</div>
<div class="c" style="left:658.2px;top:525.0px;width:51.0px">22.05%</div>
<div class="c" style="left:709.2px;top:525.0px;width:51.0px"><span class="d">-</span>4.01%</div>
<div class="c" style="left:760.3px;top:525.0px;width:51.0px">17.35%</div>
<div class="c" style="left:811.4px;top:525.0px;width:51.0px">23.40%</div>
<div class="c" style="left:862.4px;top:525.0px;width:51.0px">11.20%</div>
<div class="c" style="left:913.4px;top:525.0px;width:51.0px">26.52%</div>
<div class="c" style="left:964.5px;top:525.0px;width:51.0px">33.05%</div>
<div class="c" style="left:1015.6px;top:525.0px;width:51.0px"><span class="d">-</span>7.25%</div>
<div class="c" style="left:556.1px;top:540.0px;width:51.0px"><span class="d">-</span>16.20%</div>
<div class="c" style="left:607.1px;top:540.0px;width:51.0px">22.28%</div>
<div class="c" style="left:658.2px;top:540.0px;width:51.0px"><span class="d">-</span>21.83%</div>
<div class="c" style="left:709.2px;top:540.0px;width:51.0px"><span class="d">-</span>19.98%</div>
<div class="c" style="left:760.3px;top:540.0px;width:51.0px">3.76%</div>
<div class="c" style="left:811.4px;top:540.0px;width:51.0px"><span class="d">-</span>0.24%</div>
<div class="c" style="left:862.4px;top:540.0px;width:51.0px">7.84%</div>
<div class="c" style="left:913.4px;top:540.0px;width:51.0px">14.12%</div>
<div class="c" style="left:964.5px;top:540.0px;width:51.0px">9.71%</div>
<div class="c" style="left:1015.6px;top:540.0px;width:51.0px"><span class="d">-</span>9.08%</div>
<svg class="abs" style="left:755px;top:535px" width="120" height="30" viewBox="755 535 120 30"><rect x="763.4" y="540.6" width="103.6" height="19" rx="1.5" fill="none" stroke="#f24a4a" stroke-width="1.5" stroke-dasharray="4.4 2.5"/></svg>
</div>
<div class="abs" id="foot"></div>
<div class="abs" id="fl">资料来源：Wind，国海证券研究所，数据统计区间为2011年5月31日至2024年7月31日</div>
<div class="abs" id="fr">请务必阅读报告附注中的风险提示和免责声明</div>
<div class="abs" id="pg">25</div>
</body></html>
